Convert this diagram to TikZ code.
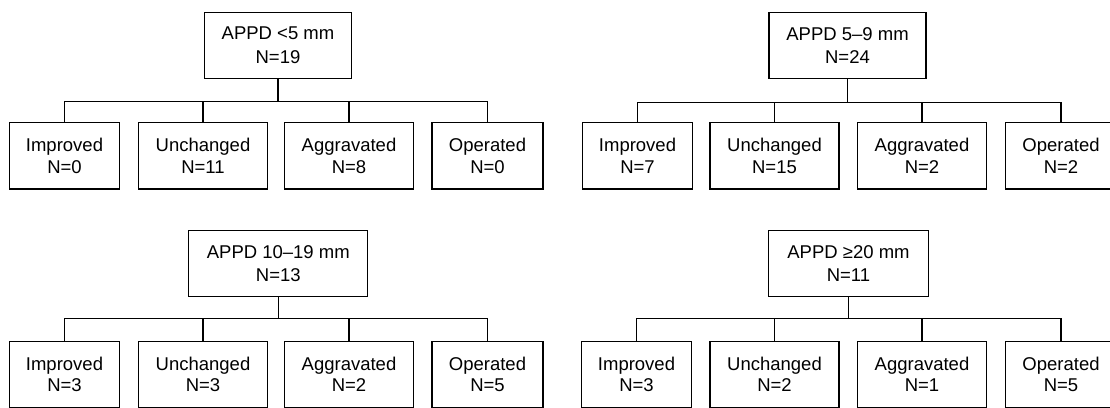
\documentclass[tikz,border=0pt]{standalone}
\usepackage{fontspec}
\setmainfont{Liberation Sans}
\usepackage{tikz}
\usetikzlibrary{positioning}

\tikzset{
  box/.style={draw, line width=1.1pt, align=center, minimum height=66.5pt,
    inner sep=0pt, font=\fontsize{18.5}{21.5}\selectfont},
  root/.style={box, font=\fontsize{18.5}{23.5}\selectfont},
  imp/.style={box, minimum width=110.5pt},
  unc/.style={box, minimum width=129pt},
  agg/.style={box, minimum width=129.5pt},
  opr/.style={box, minimum width=111pt},
  link/.style={line width=1.1pt}
}

\begin{document}
\begin{tikzpicture}[x=1pt, y=-1pt]
  \useasboundingbox (0,0) rectangle (1110,407);
  \clip (0,0) rectangle (1110,407);

  % APPD < 5 mm
  \node[root, minimum width=147pt] (rA) at (278,45.3) {APPD <5 mm\\N=19};
  \node[imp] (cA1) at (64.5,155.7) {Improved\\N=0};
  \node[unc] (cA2) at (203,155.7) {Unchanged\\N=11};
  \node[agg] (cA3) at (349,155.7) {Aggravated\\N=8};
  \node[opr] (cA4) at (487.5,155.7) {Operated\\N=0};
  \draw[link] (rA.south) -- ++(0,22.2) coordinate (jA);
  \draw[link] (cA1.north) |- (jA) -| (cA4.north);
  \draw[link] (cA2.north) -- (cA2.north |- jA);
  \draw[link] (cA3.north) -- (cA3.north |- jA);

  % APPD 5-9 mm
  \node[root, minimum width=157pt] (rB) at (847.5,45.3) {APPD 5--9 mm\\N=24};
  \node[imp] (cB1) at (637.5,155.7) {Improved\\N=7};
  \node[unc] (cB2) at (774.5,155.7) {Unchanged\\N=15};
  \node[agg] (cB3) at (922,155.7) {Aggravated\\N=2};
  \node[opr] (cB4) at (1061,155.7) {Operated\\N=2};
  \draw[link] (rB.south) -- ++(0,23) coordinate (jB);
  \draw[link] (cB1.north) |- (jB) -| (cB4.north);
  \draw[link] (cB2.north) -- (cB2.north |- jB);
  \draw[link] (cB3.north) -- (cB3.north |- jB);

  % APPD 10-19 mm
  \node[root, minimum width=179pt] (rC) at (278.3,263.4) {APPD 10--19 mm\\N=13};
  \node[imp] (cC1) at (64.5,374.3) {Improved\\N=3};
  \node[unc] (cC2) at (203,374.3) {Unchanged\\N=3};
  \node[agg] (cC3) at (349,374.3) {Aggravated\\N=2};
  \node[opr] (cC4) at (487.5,374.3) {Operated\\N=5};
  \draw[link] (rC.south) -- ++(0,21.6) coordinate (jC);
  \draw[link] (cC1.north) |- (jC) -| (cC4.north);
  \draw[link] (cC2.north) -- (cC2.north |- jC);
  \draw[link] (cC3.north) -- (cC3.north |- jC);

  % APPD >= 20 mm
  \node[root, minimum width=160.7pt] (rD) at (848.5,263.4) {APPD ≥20 mm\\N=11};
  \node[imp] (cD1) at (636.5,374.3) {Improved\\N=3};
  \node[unc] (cD2) at (774.5,374.3) {Unchanged\\N=2};
  \node[agg] (cD3) at (922,374.3) {Aggravated\\N=1};
  \node[opr] (cD4) at (1061,374.3) {Operated\\N=5};
  \draw[link] (rD.south) -- ++(0,21.6) coordinate (jD);
  \draw[link] (cD1.north) |- (jD) -| (cD4.north);
  \draw[link] (cD2.north) -- (cD2.north |- jD);
  \draw[link] (cD3.north) -- (cD3.north |- jD);
\end{tikzpicture}
\end{document}
